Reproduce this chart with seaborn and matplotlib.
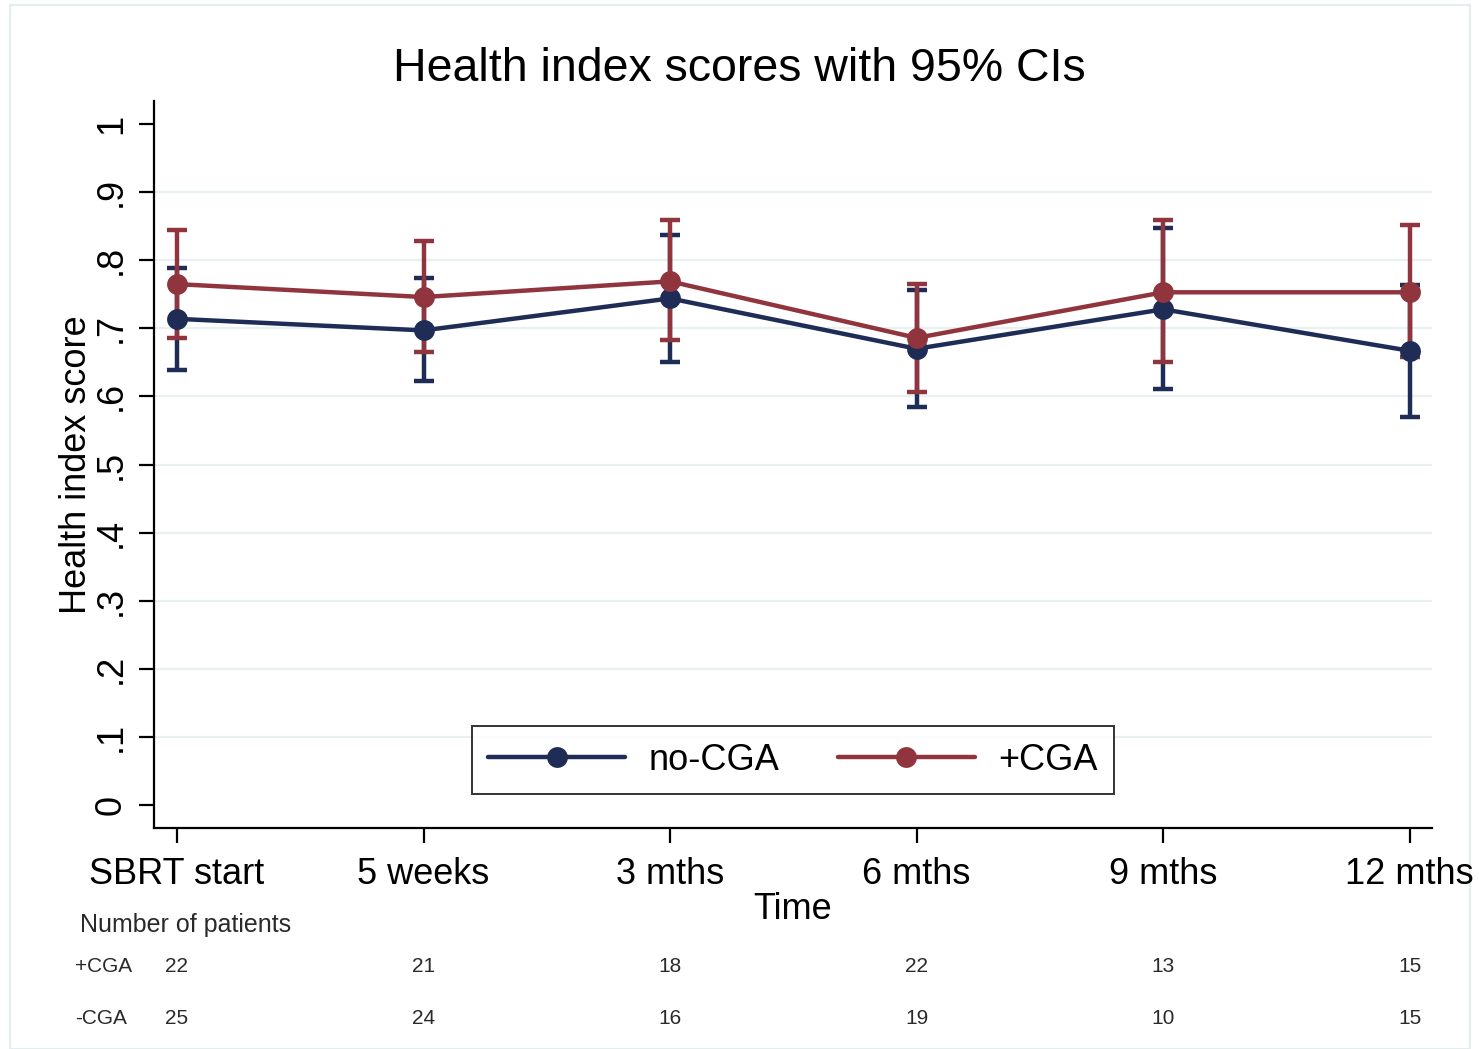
import numpy as np
import pandas as pd
import matplotlib
matplotlib.use("Agg")
import matplotlib.pyplot as plt
from matplotlib.patches import Rectangle
from matplotlib.lines import Line2D
import seaborn as sns

# Time points and group labels
timepoints = ["SBRT start", "5 weeks", "3 mths", "6 mths", "9 mths", "12 mths"]
groups = ["no-CGA", "+CGA"]

# Mean health index scores with 95% confidence limits
no_cga_mean = [0.714, 0.697, 0.744, 0.670, 0.728, 0.667]
no_cga_lo = [0.639, 0.623, 0.650, 0.584, 0.611, 0.570]
no_cga_hi = [0.789, 0.774, 0.837, 0.756, 0.847, 0.764]

cga_mean = [0.765, 0.746, 0.769, 0.686, 0.753, 0.753]
cga_lo = [0.686, 0.665, 0.683, 0.606, 0.650, 0.658]
cga_hi = [0.844, 0.828, 0.859, 0.765, 0.859, 0.852]

# Patients contributing at each time point
n_cga = [22, 21, 18, 22, 13, 15]
n_no_cga = [25, 24, 16, 19, 10, 15]

yticks = [0, 0.1, 0.2, 0.3, 0.4, 0.5, 0.6, 0.7, 0.8, 0.9, 1.0]
ytick_labels = ["0", ".1", ".2", ".3", ".4", ".5", ".6", ".7", ".8", ".9", "1"]

navy = "#1f2c56"
maroon = "#90353d"
grid_col = "#e9f0f2"

sns.set_theme(style="white")
plt.rcParams["font.family"] = ["Liberation Sans", "DejaVu Sans"]
plt.rcParams["text.color"] = "black"
plt.rcParams["axes.labelcolor"] = "black"
plt.rcParams["xtick.color"] = "black"
plt.rcParams["ytick.color"] = "black"

df = pd.DataFrame({
    "pos": list(range(len(timepoints))) * 2,
    "score": no_cga_mean + cga_mean,
    "group": [groups[0]] * len(timepoints) + [groups[1]] * len(timepoints),
})

fig = plt.figure(figsize=(14.79, 10.49), dpi=100)
fig.patch.set_facecolor("white")

# light frame around the graph region
fig.add_artist(Rectangle((10 / 1479, 0.0), 1460 / 1479, 1 - 5 / 1049,
                         transform=fig.transFigure, fill=False,
                         edgecolor="#e4ecee", lw=1.5, zorder=-1))

ax = fig.add_axes([154 / 1479, 1 - 828 / 1049, 1278 / 1479, 727 / 1049])
ax.set_facecolor("none")

x = np.arange(len(timepoints))

# gridlines (interior ticks only)
for yv in yticks[1:-1]:
    ax.axhline(yv, color=grid_col, lw=1.6, zorder=0)

# confidence intervals
ax.errorbar(x, no_cga_mean,
            yerr=[np.array(no_cga_mean) - np.array(no_cga_lo),
                  np.array(no_cga_hi) - np.array(no_cga_mean)],
            fmt="none", ecolor=navy, elinewidth=3.2, capsize=7.5, capthick=3.2, zorder=2)
ax.errorbar(x, cga_mean,
            yerr=[np.array(cga_mean) - np.array(cga_lo),
                  np.array(cga_hi) - np.array(cga_mean)],
            fmt="none", ecolor=maroon, elinewidth=3.2, capsize=7.5, capthick=3.2, zorder=3)

# connected means
sns.lineplot(data=df, x="pos", y="score", hue="group", hue_order=groups,
             palette={groups[0]: navy, groups[1]: maroon},
             marker="o", markersize=15, markeredgewidth=0, lw=3.2,
             ax=ax, legend=False, zorder=4)
for i, ln in enumerate(ax.get_lines()[-2:]):
    ln.set_zorder(4 + i)

ax.set_xlim(-0.093, 5.09)
ax.set_ylim(-0.034, 1.034)
ax.set_xticks(x)
ax.set_xticklabels(timepoints, fontsize=26)
ax.set_yticks(yticks)
ax.set_yticklabels(ytick_labels, fontsize=26, rotation=90, va="center")
ax.tick_params(axis="both", direction="out", length=11, width=1.6, color="black",
               bottom=True, left=True, pad=7)
ax.tick_params(axis="x", pad=10)
ax.set_xlabel("Time", fontsize=26, labelpad=0)
ax.set_ylabel("Health index score", fontsize=26, labelpad=0)

for s in ["top", "right"]:
    ax.spines[s].set_visible(False)
for s in ["left", "bottom"]:
    ax.spines[s].set_color("black")
    ax.spines[s].set_linewidth(1.6)

handles = [Line2D([], [], color=navy, lw=3.2, marker="o", markersize=15, markeredgewidth=0),
           Line2D([], [], color=maroon, lw=3.2, marker="o", markersize=15, markeredgewidth=0)]
leg = ax.legend(handles, groups, loc="center", bbox_to_anchor=(0.5, 0.0935), ncol=2,
                fontsize=26, frameon=True, fancybox=False, handlelength=3.8,
                columnspacing=1.6, handletextpad=0.65, borderpad=0.45)
leg.get_frame().set_edgecolor("black")
leg.get_frame().set_linewidth(1.4)

fig.text(0.5, 1 - 69 / 1049, "Health index scores with 95% CIs",
         ha="center", va="center", fontsize=33.5)

# number-at-risk table
tfont = ["Liberation Sans Narrow", "Liberation Sans", "DejaVu Sans"]
tcol = "#2a2a2a"
fig.text(80 / 1479, 1 - 925 / 1049, "Number of patients", ha="left", va="center",
         fontsize=18, color=tcol, family=tfont)
row_y = [1 - 966 / 1049, 1 - 1019 / 1049]
for label, counts, yy in zip(["+CGA", "-CGA"], [n_cga, n_no_cga], row_y):
    fig.text(75 / 1479, yy, label, ha="left", va="center", fontsize=15,
             color=tcol, family=tfont)
    for xi, n in zip(x, counts):
        xf = fig.transFigure.inverted().transform(ax.transData.transform((xi, 0)))[0]
        fig.text(xf, yy, str(n), ha="center", va="center", fontsize=15,
                 color=tcol, family=tfont)

fig.savefig("out.png", dpi=100)
